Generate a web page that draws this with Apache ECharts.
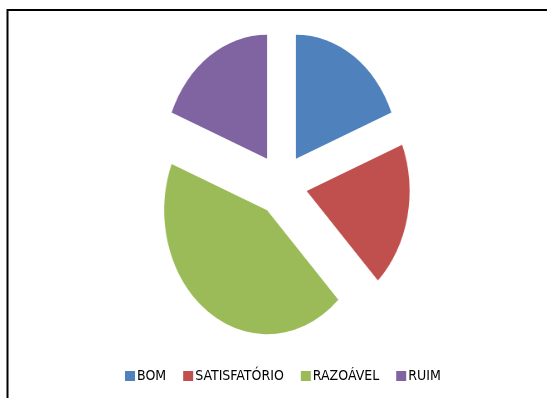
<!DOCTYPE html>
<html>
<head>
<meta charset="utf-8">
<script src="https://cdn.jsdelivr.net/npm/echarts@6/dist/echarts.min.js"></script>
<style>
  html, body { margin: 0; padding: 0; background: #ffffff; }
  #wrap { position: relative; width: 547px; height: 398px; overflow: hidden; }
  /* the pie is drawn round, then stretched into an upright ellipse */
  #pie { position: absolute; left: 0; top: 0; width: 547px; height: 398px;
         transform-origin: 281.5px 50%; transform: scaleX(0.83); }
  #front { position: absolute; left: 0; top: 0; width: 547px; height: 398px; }
</style>
</head>
<body>
<div id="wrap">
  <div id="pie"></div>
  <div id="front"></div>
</div>
<script>
// Avaliação: quantidade de respostas por conceito
const categories = ['BOM', 'SATISFATÓRIO', 'RAZOÁVEL', 'RUIM'];
const values = [7, 7, 16, 7];
const colors = ['#4F81BD', '#C0504D', '#9BBB59', '#8064A2'];

const pieData = categories.map((name, i) => ({
  name: name,
  value: values[i],
  selected: true,
  itemStyle: { color: colors[i] }
}));

const pieChart = echarts.init(document.getElementById('pie'), null, { renderer: 'canvas' });
pieChart.setOption({
  animation: false,
  series: [{
    type: 'pie',
    center: [281.5, 184.5],
    radius: [0, 124],
    startAngle: 90,
    clockwise: true,
    selectedMode: 'multiple',
    selectedOffset: 31,
    label: { show: false },
    labelLine: { show: false },
    emphasis: { disabled: true },
    silent: true,
    data: pieData
  }]
});

// legend and frame drawn on a second layer at normal proportions
const frontChart = echarts.init(document.getElementById('front'), null, { renderer: 'canvas' });
frontChart.setOption({
  animation: false,
  legend: {
    data: categories,
    left: 125,
    top: 369,
    padding: 0,
    icon: 'rect',
    itemWidth: 10,
    itemHeight: 10,
    itemGap: 17,
    selectedMode: false,
    textStyle: {
      fontFamily: '"DejaVu Sans Condensed", "Liberation Sans Narrow", "Open Sans", sans-serif',
      fontSize: 14,
      color: '#000000',
      padding: [0, 0, 0, -3]
    }
  },
  graphic: [{
    type: 'polyline',
    shape: { points: [[7.5, 398], [7.5, 10], [547, 10]] },
    style: { stroke: '#000000', lineWidth: 2, fill: null }
  }],
  series: [{
    type: 'pie',
    radius: [0, 0],
    center: [-100, -100],
    silent: true,
    label: { show: false },
    labelLine: { show: false },
    data: categories.map((name, i) => ({ name: name, value: values[i], itemStyle: { color: colors[i] } }))
  }]
});
</script>
</body>
</html>
